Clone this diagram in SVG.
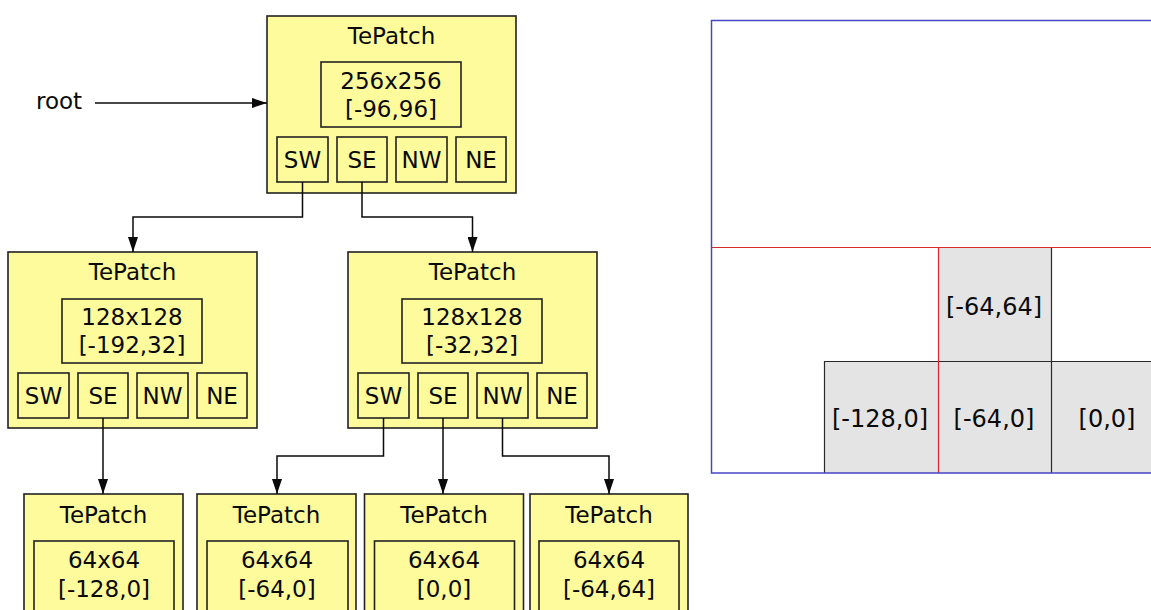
<svg xmlns="http://www.w3.org/2000/svg" width="1151" height="610" viewBox="0 0 1151 610">
  <style>
    .node { fill: #fdfb9c; stroke: #222; stroke-width: 1.6; }
    .box { fill: none; stroke: #222; stroke-width: 1.6; }
    .t { font-family: "DejaVu Sans", Verdana, sans-serif; font-size: 23px; fill: #0a0a0a; text-anchor: middle; }
    .lbl { font-family: "DejaVu Sans", Verdana, sans-serif; font-size: 23px; fill: #0a0a0a; }
    .wire { fill: none; stroke: #0a0a0a; stroke-width: 1.5; marker-end: url(#arr); }
    .cell { fill: #e4e4e4; stroke: none; }
    .grid { stroke: #2a2a2a; stroke-width: 1.2; fill: none; }
    .split { stroke: #d42a2a; stroke-width: 1.2; fill: none; }
    .bound { stroke: #4646c8; stroke-width: 1.5; fill: none; }
    .q { font-family: "DejaVu Sans", Verdana, sans-serif; font-size: 24px; fill: #0a0a0a; text-anchor: middle; }
  </style>
  <defs>
    <marker id="arr" viewBox="0 0 15 10" refX="15" refY="5" markerWidth="15" markerHeight="10" markerUnits="userSpaceOnUse" orient="auto">
      <path d="M0,0 L15,5 L0,10 Z" fill="#0a0a0a"/>
    </marker>
  </defs>

  <rect width="1151" height="610" fill="#ffffff"/>

  <!-- quadtree tree -->
  <text class="lbl" x="36" y="109">root</text>

  <g id="patch-256">
    <rect class="node" x="267" y="16" width="249" height="177"/>
    <text class="t" x="391.5" y="44">TePatch</text>
    <rect class="box" x="321" y="62" width="140" height="65"/>
    <text class="t" x="391" y="89">256x256</text>
    <text class="t" x="391" y="117">[-96,96]</text>
    <rect class="box" x="277" y="137" width="51" height="45"/>
    <rect class="box" x="337" y="137" width="50" height="45"/>
    <rect class="box" x="396" y="137" width="51" height="45"/>
    <rect class="box" x="456" y="137" width="50" height="45"/>
    <text class="t" x="302.5" y="168">SW</text>
    <text class="t" x="362" y="168">SE</text>
    <text class="t" x="421.5" y="168">NW</text>
    <text class="t" x="481" y="168">NE</text>
  </g>

  <g id="patch-128-a">
    <rect class="node" x="8" y="252" width="249" height="176"/>
    <text class="t" x="132.5" y="280">TePatch</text>
    <rect class="box" x="62" y="299" width="140" height="64"/>
    <text class="t" x="132" y="325">128x128</text>
    <text class="t" x="132" y="353">[-192,32]</text>
    <rect class="box" x="18" y="373" width="51" height="45"/>
    <rect class="box" x="78" y="373" width="50" height="45"/>
    <rect class="box" x="137" y="373" width="51" height="45"/>
    <rect class="box" x="197" y="373" width="50" height="45"/>
    <text class="t" x="43.5" y="404">SW</text>
    <text class="t" x="103" y="404">SE</text>
    <text class="t" x="162.5" y="404">NW</text>
    <text class="t" x="222" y="404">NE</text>
  </g>

  <g id="patch-128-b">
    <rect class="node" x="348" y="252" width="249" height="176"/>
    <text class="t" x="472.5" y="280">TePatch</text>
    <rect class="box" x="402" y="299" width="140" height="64"/>
    <text class="t" x="472" y="325">128x128</text>
    <text class="t" x="472" y="353">[-32,32]</text>
    <rect class="box" x="358" y="373" width="51" height="45"/>
    <rect class="box" x="418" y="373" width="50" height="45"/>
    <rect class="box" x="477" y="373" width="51" height="45"/>
    <rect class="box" x="537" y="373" width="50" height="45"/>
    <text class="t" x="383.5" y="404">SW</text>
    <text class="t" x="443" y="404">SE</text>
    <text class="t" x="502.5" y="404">NW</text>
    <text class="t" x="562" y="404">NE</text>
  </g>

  <g id="patch-64-a">
    <rect class="node" x="24" y="494" width="159" height="130"/>
    <text class="t" x="103.5" y="523">TePatch</text>
    <rect class="box" x="34" y="541" width="140" height="80"/>
    <text class="t" x="104" y="568">64x64</text>
    <text class="t" x="104" y="597">[-128,0]</text>
  </g>

  <g id="patch-64-b">
    <rect class="node" x="197" y="494" width="159" height="130"/>
    <text class="t" x="276.5" y="523">TePatch</text>
    <rect class="box" x="207" y="541" width="141" height="80"/>
    <text class="t" x="277" y="568">64x64</text>
    <text class="t" x="277" y="597">[-64,0]</text>
  </g>

  <g id="patch-64-c">
    <rect class="node" x="364.5" y="494" width="159" height="130"/>
    <text class="t" x="444" y="523">TePatch</text>
    <rect class="box" x="374.5" y="541" width="140" height="80"/>
    <text class="t" x="444" y="568">64x64</text>
    <text class="t" x="444" y="597">[0,0]</text>
  </g>

  <g id="patch-64-d">
    <rect class="node" x="530" y="494" width="158" height="130"/>
    <text class="t" x="609" y="523">TePatch</text>
    <rect class="box" x="539" y="541" width="140" height="80"/>
    <text class="t" x="609" y="568">64x64</text>
    <text class="t" x="609" y="597">[-64,64]</text>
  </g>

  <g id="links">
    <path class="wire" d="M95,103 H267"/>
    <path class="wire" d="M302.5,182 V217 H133 V252"/>
    <path class="wire" d="M362,182 V217 H472.5 V252"/>
    <path class="wire" d="M103,418 V494"/>
    <path class="wire" d="M383.5,418 V456 H277 V494"/>
    <path class="wire" d="M443,418 V494"/>
    <path class="wire" d="M502.5,418 V456 H609 V494"/>
  </g>

  <!-- spatial layout of the same patches -->
  <g id="extent">
    <rect class="cell" x="938" y="247" width="113" height="114"/>
    <rect class="cell" x="824" y="361" width="340" height="112"/>
    <path class="grid" d="M1051.5,247 V473 M824.5,361 V473 M824,361.5 H1164"/>
    <path class="split" d="M711,247.5 H1164 M938.5,247 V473"/>
    <rect class="bound" x="711.5" y="20.5" width="452" height="452.5"/>
    <text class="q" x="994" y="315">[-64,64]</text>
    <text class="q" x="880" y="427">[-128,0]</text>
    <text class="q" x="994" y="427">[-64,0]</text>
    <text class="q" x="1107" y="427">[0,0]</text>
  </g>
</svg>
